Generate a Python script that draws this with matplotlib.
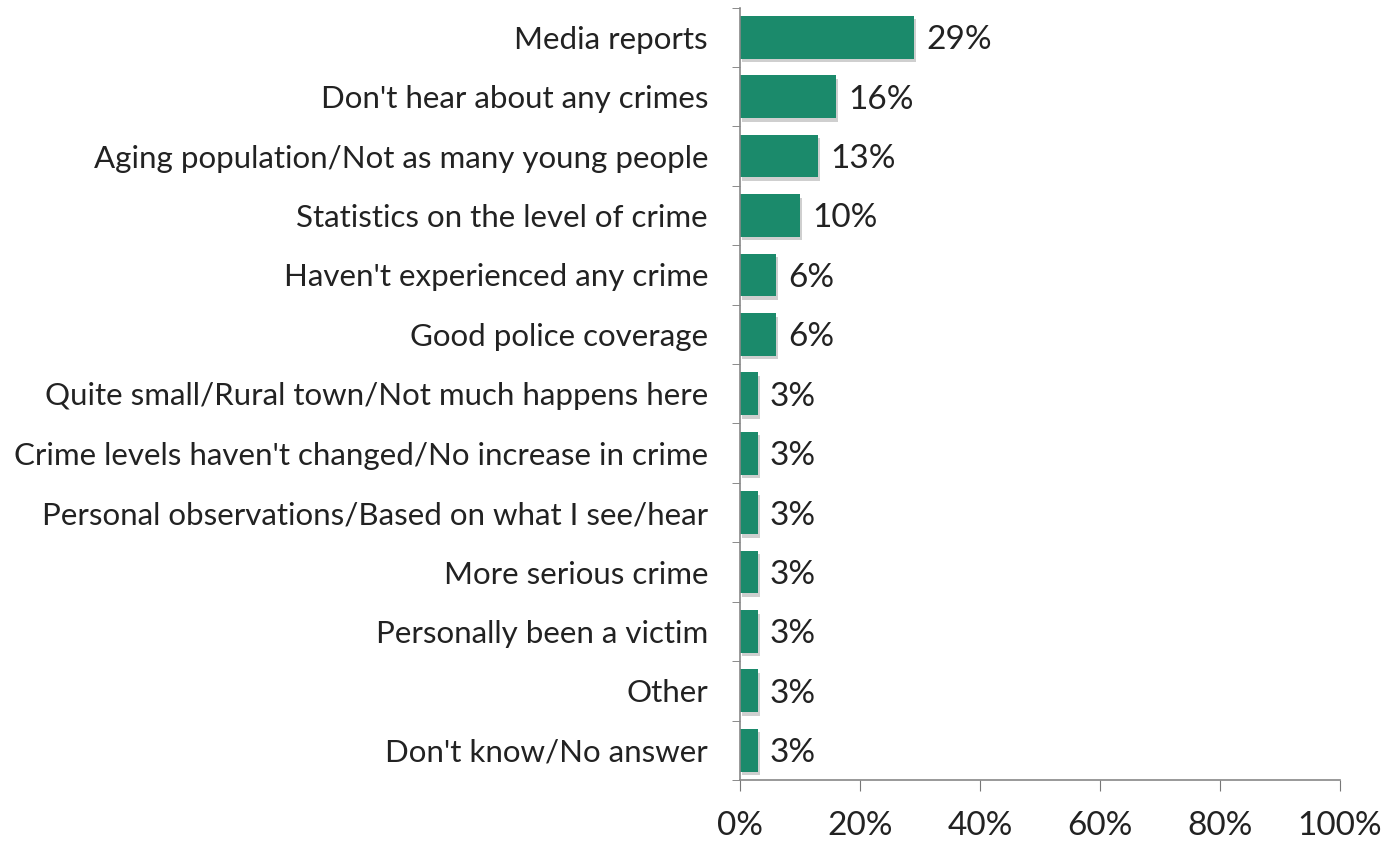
import matplotlib.pyplot as plt
import numpy as np

categories = ['Media reports', "Don't hear about any crimes", 'Aging population/Not as many young people',
              'Statistics on the level of crime', "Haven't experienced any crime", 'Good police coverage',
              'Quite small/Rural town/Not much happens here', "Crime levels haven't changed/No increase in crime",
              'Personal observations/Based on what I see/hear', 'More serious crime',
              'Personally been a victim', 'Other', "Don't know/No answer"]
values = [29, 16, 13, 10, 6, 6, 3, 3, 3, 3, 3, 3, 3]
xticks = [0, 20, 40, 60, 80, 100]

plt.rcParams['font.family'] = ['Lato', 'DejaVu Sans']

fig = plt.figure(figsize=(13.95, 8.44), dpi=100)
ax = fig.add_axes([0.5305, 0.0758, 0.43, 0.9153])

y = np.arange(len(categories))
# shadow
ax.barh(y + 0.06, values, height=0.72, left=0.35, color='#b0b0b0', alpha=0.6, zorder=1)
ax.barh(y, values, height=0.72, color='#1b8a6b', zorder=2)

for yi, v in zip(y, values):
    ax.text(v + 2, yi + 0.05, f'{v}%', va='center', ha='left', fontsize=24, color='#222222')

ax.set_xlim(0, 100)
ax.set_ylim(len(categories) - 0.5, -0.5)
ax.set_yticks(y)
ax.set_yticklabels(categories, fontsize=22.5, color='#222222')
ax.set_yticks(np.arange(-0.5, len(categories), 1), minor=True)
ax.tick_params(axis='y', which='major', length=0, pad=23)
ax.tick_params(axis='y', which='minor', length=6, color='#777777', direction='out')
ax.set_xticks(xticks)
ax.set_xticklabels([f'{t}%' for t in xticks], fontsize=24, color='#222222')
ax.tick_params(axis='x', length=8, color='#777777', pad=14)

for s in ['top', 'right']:
    ax.spines[s].set_visible(False)
for s in ['left', 'bottom']:
    ax.spines[s].set_color('#888888')
    ax.spines[s].set_linewidth(1.2)

fig.savefig('out.png', dpi=100)
